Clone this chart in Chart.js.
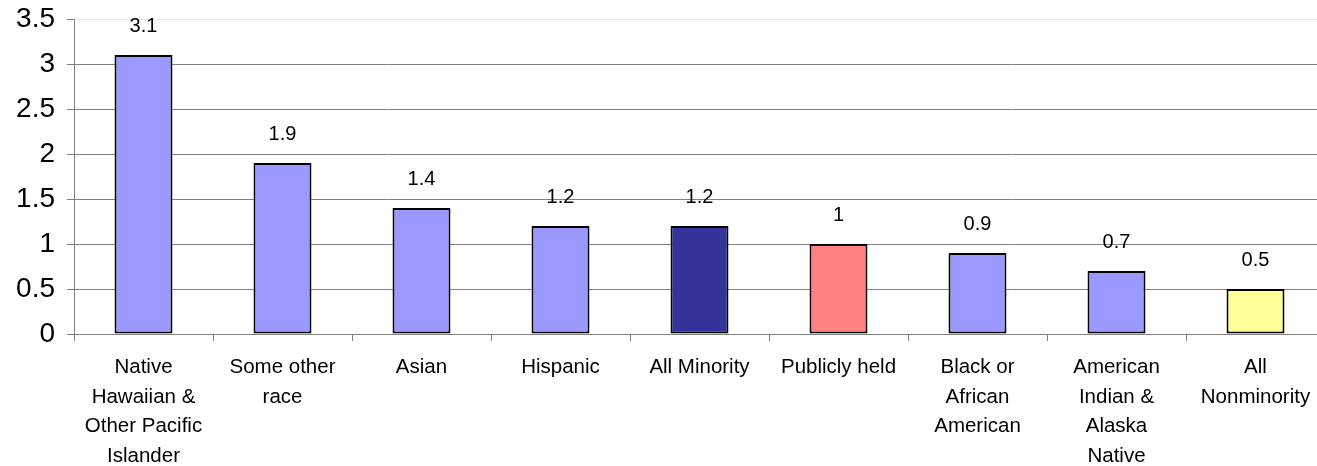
<!DOCTYPE html>
<html>
<head>
<meta charset="utf-8">
<script src="https://cdn.jsdelivr.net/npm/chart.js@4.4.1/dist/chart.umd.min.js"></script>
<style>
  html, body { margin: 0; padding: 0; background: #fff; overflow: hidden; }
  #wrap { width: 1317px; height: 466px; overflow: hidden; }
  canvas { display: block; }
</style>
</head>
<body>
<div id="wrap"><canvas id="c" width="1325" height="466"></canvas></div>
<script>
// Categories (multi-line labels) and their ratio values
const categories = [
  ['Native', 'Hawaiian &', 'Other Pacific', 'Islander'],
  ['Some other', 'race'],
  'Asian',
  'Hispanic',
  'All Minority',
  'Publicly held',
  ['Black or', 'African', 'American'],
  ['American', 'Indian &', 'Alaska', 'Native'],
  ['All', 'Nonminority']
];
const values = [3.1, 1.9, 1.4, 1.2, 1.2, 1.0, 0.9, 0.7, 0.5];
const barColors = ['#9999FF', '#9999FF', '#9999FF', '#9999FF', '#333399',
                   '#FF8080', '#9999FF', '#9999FF', '#FFFF99'];
const yTickLabels = ['0', '0.5', '1', '1.5', '2', '2.5', '3', '3.5'];

const FONT = "'Liberation Sans', Arial, sans-serif";

// Writes each bar's value just above it
const valueLabels = {
  id: 'valueLabels',
  afterDatasetsDraw(chart) {
    const ctx = chart.ctx;
    const meta = chart.getDatasetMeta(0);
    ctx.save();
    ctx.font = '20px ' + FONT;
    ctx.fillStyle = '#000';
    ctx.textAlign = 'center';
    ctx.textBaseline = 'middle';
    meta.data.forEach((bar, i) => {
      ctx.fillText(String(values[i]), bar.x, bar.y - 29);
    });
    ctx.restore();
  }
};

new Chart(document.getElementById('c'), {
  type: 'bar',
  data: {
    labels: categories,
    datasets: [{
      data: values,
      backgroundColor: barColors,
      borderColor: '#000',
      borderWidth: 2,
      borderSkipped: false,
      barPercentage: 0.417,
      categoryPercentage: 1.0
    }]
  },
  options: {
    responsive: false,
    animation: false,
    layout: { autoPadding: false, padding: { top: 19, right: 0, bottom: 0, left: 0 } },
    plugins: { legend: { display: false }, tooltip: { enabled: false } },
    scales: {
      x: {
        afterFit(scale) { scale.height = 132; },
        border: { display: true, color: '#808080', width: 1 },
        grid: {
          offset: true,
          drawOnChartArea: false,
          drawTicks: true,
          tickLength: 7,
          color: '#808080'
        },
        ticks: {
          color: '#000',
          font: { family: FONT, size: 20.5, lineHeight: 1.46 },
          padding: 11,
          maxRotation: 0,
          autoSkip: false
        }
      },
      y: {
        min: 0,
        max: 3.5,
        afterFit(scale) {
          scale.width = 74;
          scale.paddingTop = 0;
          scale.paddingBottom = 0;
        },
        afterBuildTicks(scale) {
          scale.ticks = yTickLabels.map(t => ({ value: parseFloat(t) }));
        },
        border: { display: true, color: '#808080', width: 1 },
        grid: {
          color: ctx => (ctx.tick && ctx.tick.value === 3.5) ? '#e6e6e6' : '#808080',
          tickColor: '#808080',
          tickLength: 7,
          lineWidth: 1
        },
        ticks: {
          color: '#000',
          font: { family: FONT, size: 28, lineHeight: 0.5 },
          padding: 12,
          callback: (v, i) => yTickLabels[i]
        }
      }
    }
  },
  plugins: [valueLabels]
});
</script>
</body>
</html>
